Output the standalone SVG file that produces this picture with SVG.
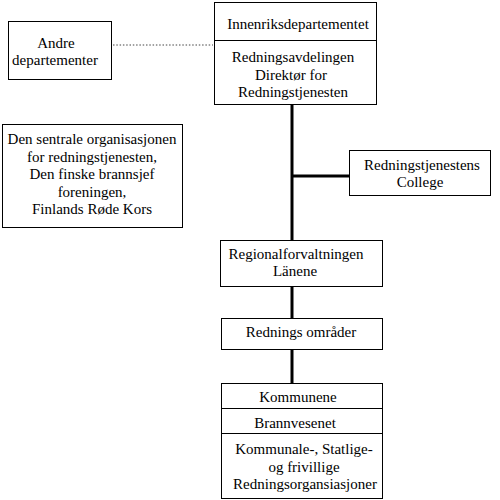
<svg xmlns="http://www.w3.org/2000/svg" width="500" height="500" viewBox="0 0 500 500">
<style>
.box{fill:#fff;stroke:#000;stroke-width:1}
.div{stroke:#000;stroke-width:1}
text{font-family:"Liberation Serif","Times New Roman",serif;font-size:15px;fill:#000;text-anchor:middle}
.conn{stroke:#000;stroke-width:3;fill:none}
.dot{stroke:#444;stroke-width:1;stroke-dasharray:1.5,1.8;fill:none}
</style>
<rect width="500" height="500" fill="#fff"/>
<g id="connectors">
<line class="conn" x1="292" y1="104" x2="292" y2="240"/>
<line class="conn" x1="292" y1="176" x2="349" y2="176"/>
<line class="conn" x1="292" y1="286" x2="292" y2="318"/>
<line class="conn" x1="292" y1="349" x2="292" y2="383"/>
<line class="dot" x1="113" y1="45" x2="213" y2="45"/>
</g>
<g id="innenriks">
<rect class="box" x="214.5" y="2.5" width="162" height="102"/>
<line class="div" x1="214.5" y1="40.5" x2="376.5" y2="40.5"/>
<text x="298" y="29">Innenriksdepartementet</text>
<text x="293" y="62">Redningsavdelingen</text>
<text x="291" y="79.5">Direktør for</text>
<text x="293" y="97">Redningstjenesten</text>
</g>
<g id="andre">
<rect class="box" x="8.5" y="21.5" width="103" height="58"/>
<text x="56" y="48">Andre</text>
<text x="55" y="65">departementer</text>
</g>
<g id="sentrale">
<rect class="box" x="2.5" y="124.5" width="180" height="103"/>
<text x="92" y="144">Den sentrale organisasjonen</text>
<text x="92" y="161.5">for redningstjenesten,</text>
<text x="92" y="179">Den finske brannsjef</text>
<text x="92" y="196.5">foreningen,</text>
<text x="92" y="214">Finlands Røde Kors</text>
</g>
<g id="college">
<rect class="box" x="349.5" y="150.5" width="141" height="45"/>
<text x="422" y="170">Redningstjenestens</text>
<text x="420" y="187">College</text>
</g>
<g id="regional">
<rect class="box" x="220.5" y="240.5" width="162" height="46"/>
<text x="296" y="259">Regionalforvaltningen</text>
<text x="295" y="276">Länene</text>
</g>
<g id="omrader">
<rect class="box" x="221.5" y="318.5" width="161" height="31"/>
<text x="301" y="337">Rednings områder</text>
</g>
<g id="kommunene">
<rect class="box" x="221.5" y="383.5" width="161" height="115"/>
<line class="div" x1="221.5" y1="408.5" x2="382.5" y2="408.5"/>
<line class="div" x1="221.5" y1="433.5" x2="382.5" y2="433.5"/>
<text x="298" y="402">Kommunene</text>
<text x="295" y="428">Brannvesenet</text>
<text x="304" y="454">Kommunale-, Statlige-</text>
<text x="304" y="471.5">og frivillige</text>
<text x="305" y="489">Redningsorgansiasjoner</text>
</g>
</svg>
